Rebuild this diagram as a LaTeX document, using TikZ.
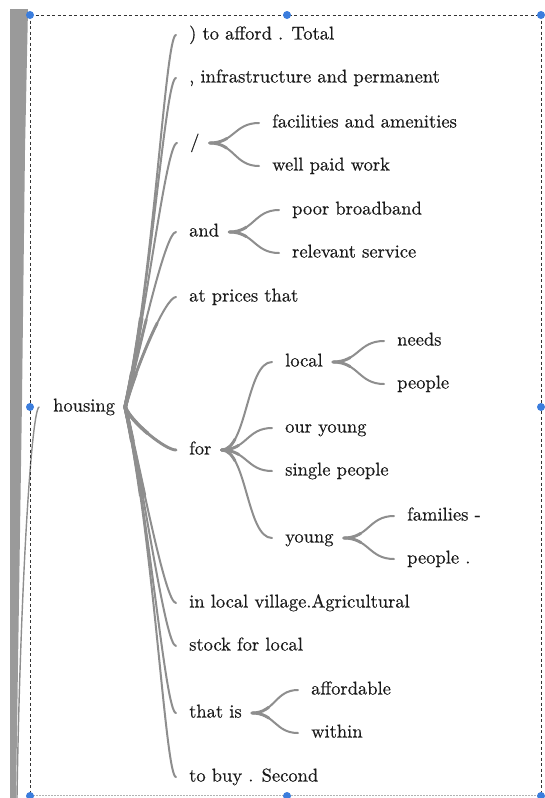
\documentclass[tikz,border=0pt]{standalone}
\usepackage{fontspec}
\usetikzlibrary{calc}
\newfontfamily\mapfont{lmroman10-regular.otf}[FakeBold=0.4]
\definecolor{txt}{HTML}{1A1A1A}
\definecolor{twigc}{HTML}{8E8E8E}
\definecolor{band}{HTML}{9A9A9A}
\definecolor{handle}{HTML}{3B7DDD}
\tikzset{
  word/.style={font=\mapfont\fontsize{18.5}{22}\selectfont, text=txt, inner sep=0pt, anchor=base west},
  twig/.style={draw=twigc, line width=2pt, line cap=round},
  twigbase/.style={twig, line width=2.9pt, dash pattern=on #1 off 2000pt},
  frame/.style={draw=black!80, line width=0.9pt, dash pattern=on 3pt off 2.5pt},
  knob/.style={circle, fill=handle, inner sep=0pt, minimum size=8pt},
}
% S-shaped path between the right side of a parent and the left side of a child
\newcommand\shortpath[2]{let \p1=([shift={(10pt,4.5pt)}]#1.base east),
                  \p2=([shift={(-13pt,4.5pt)}]#2.base west) in
    (\p1) .. controls ({(\x1+\x2)/2},\y1) and ({(\x1+\x2)/2},\y2) .. (\p2)}
% long path: leaves the fork steeply inside a common bundle, curls into the child
\newcommand\longpath[2]{let \p1=([shift={(10pt,4.5pt)}]#1.base east),
                  \p2=([shift={(-13pt,4.5pt)}]#2.base west) in
    (\p1) .. controls ({\x1+0.07*abs(\y2-\y1)+3pt},{\y1+0.36*(\y2-\y1)})
             and ({\x2-0.21*(\x2-\x1)},\y2) .. (\p2)}
% branches, a little thicker where they leave the parent
\newcommand\twigto[2]{%
  \draw[twig] \shortpath{#1}{#2};
  \draw[twigbase=18pt] \shortpath{#1}{#2};}
\newcommand\longtwig[2]{%
  \draw[twig] \longpath{#1}{#2};
  \draw[twigbase=90pt] \longpath{#1}{#2};
  \draw[twigbase=35pt, line width=3.6pt] \longpath{#1}{#2};}
\begin{document}
\begin{tikzpicture}[x=1pt, y=-1pt]
\useasboundingbox[fill=white] (0,0) rectangle (545,798);

% bundle of incoming branches at the left edge
\fill[band] (10,9) -- (28,9) -- (25,150) -- (22,400) -- (16,798) -- (10,798) -- cycle;

% nodes
\node[word] (housing) at (53,411.5) {housing};

\node[word] (t1)  at (189,39.5)  {) to afford . Total};
\node[word] (t2)  at (189,82.5)  {, infrastructure and permanent};
\node[word] (t3)  at (190,147.5) {/};
\node[word] (t4)  at (189,236.5) {and};
\node[word] (t5)  at (189,301.5) {at prices that};
\node[word] (t6)  at (189,454.5) {for};
\node[word] (t7)  at (189,607.5) {in local village.Agricultural};
\node[word] (t8)  at (189,650.5) {stock for local};
\node[word] (t9)  at (189,717.5) {that is};
\node[word] (t10) at (189,781.5) {to buy . Second};

\node[word] (s1) at (272,127.5) {facilities and amenities};
\node[word] (s2) at (272,170.5) {well paid work};

\node[word] (a1) at (292,214.5) {poor broadband};
\node[word] (a2) at (292,257.5) {relevant service};

\node[word] (f1) at (285,366.5) {local};
\node[word] (f2) at (285,432.5) {our young};
\node[word] (f3) at (285,475.5) {single people};
\node[word] (f4) at (285,542.5) {young};

\node[word] (l1) at (397,345.5) {needs};
\node[word] (l2) at (397,388.5) {people};

\node[word] (y1) at (407,520.5) {families -};
\node[word] (y2) at (407,563.5) {people .};

\node[word] (h1) at (311,694.5) {affordable};
\node[word] (h2) at (311,737.5) {within};

% branches
\foreach \c in {t1,t2,t3,t4,t5,t6,t7,t8,t9,t10} {\longtwig{housing}{\c}}
\twigto{t3}{s1}\twigto{t3}{s2}
\twigto{t4}{a1}\twigto{t4}{a2}
\foreach \c in {f1,f2,f3,f4} {\twigto{t6}{\c}}
\twigto{f1}{l1}\twigto{f1}{l2}
\twigto{f4}{y1}\twigto{f4}{y2}
\twigto{t9}{h1}\twigto{t9}{h2}

% incoming branch of housing
\coordinate (hin) at ([shift={(-14pt,4.5pt)}]housing.base west);
\draw[draw=twigc, line width=1.4pt, line cap=round]
  (hin) .. controls (31,412) and (20,600) .. (17,798);

% selection frame with handles
\draw[frame] (30,15) -- (541,15);
\draw[frame] (30,15) -- (30,796);
\draw[frame] (541,15) -- (541,796);
\draw[draw=black!30, line width=0.9pt, dash pattern=on 1.5pt off 1.5pt] (30,795.5) -- (541,795.5);
\foreach \p [count=\i] in {(30,15),(287,15),(541,15),(30,407),(541,407),(30,796),(287,796),(541,796)}
  \node[knob] (k\i) at \p {};
\end{tikzpicture}
\end{document}
